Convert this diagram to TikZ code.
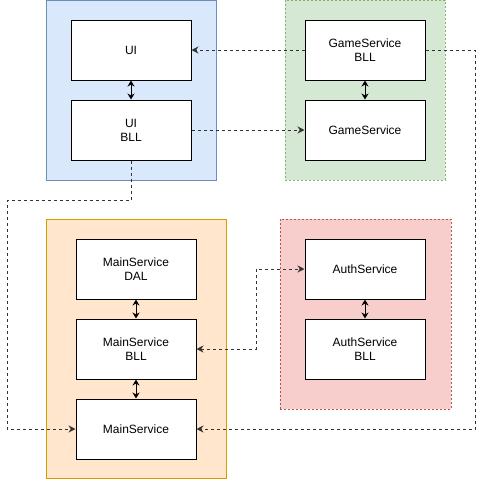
\documentclass[tikz,border=0pt]{standalone}
\usepackage{fontspec}
\setmainfont{Liberation Sans}
\usetikzlibrary{arrows.meta,positioning}
\definecolor{arblue}{HTML}{6C8EBF}
\definecolor{argreen}{HTML}{82B366}
\definecolor{arorange}{HTML}{D79B00}
\definecolor{arred}{HTML}{B85450}
\definecolor{arlightblue}{HTML}{DAE8FC}
\definecolor{arlightgreen}{HTML}{D5E8D4}
\definecolor{arlightorange}{HTML}{FFE6CC}
\definecolor{arlightred}{HTML}{F8CECC}
\definecolor{arline}{HTML}{333333}
\tikzset{
  argroup/.style={line width=1pt, inner sep=0pt},
  argrpblue/.style={argroup, draw=arblue, fill=arlightblue},
  argrpgreen/.style={argroup, draw=argreen, fill=arlightgreen, dash pattern=on 2pt off 2pt},
  argrporange/.style={argroup, draw=arorange, fill=arlightorange},
  argrpred/.style={argroup, draw=arred, fill=arlightred, dash pattern=on 2pt off 2pt},
  arbox/.style={draw=black, line width=1pt, fill=white, align=center, minimum width=120pt, minimum height=60pt, inner sep=0pt},
  ararr/.style={{Stealth[length=6pt,width=7pt]}-{Stealth[length=6pt,width=7pt]}, line width=1pt, draw=black},
  ardash/.style={-{Stealth[length=7pt,width=7pt]}, line width=1pt, draw=arline, dash pattern=on 3pt off 3pt}
}

\begin{document}
\begin{tikzpicture}[x=1pt, y=-1pt, font=\fontsize{12}{14}\selectfont, node distance=19pt]
  \useasboundingbox (0,0) rectangle (485,480);
  \node[argrpblue, minimum width=170pt, minimum height=180pt] (uigrp) at (131,90) {};
  \node[argrpgreen, minimum width=160pt, minimum height=180pt] (gamegrp) at (365,90) {};
  \node[argrporange, minimum width=180pt, minimum height=259pt] (maingrp) at (136,348.5) {};
  \node[argrpred, minimum width=171pt, minimum height=190pt] (authgrp) at (365.5,314) {};
  \node[arbox] (ui) at (131,50) {UI};
  \node[arbox, below=of ui] (uibll) {UI\\BLL};
  \node[arbox] (gamebll) at (365,50) {GameService\\BLL};
  \node[arbox, below=of gamebll] (game) {GameService};
  \node[arbox] (maindal) at (136,269) {MainService\\DAL};
  \node[arbox, below=of maindal] (mainbll) {MainService\\BLL};
  \node[arbox, below=of mainbll] (main) {MainService};
  \node[arbox] (auth) at (365,269) {AuthService};
  \node[arbox, below=of auth] (authbll) {AuthService\\BLL};
  \coordinate (leftbend) at (7,200);
  \coordinate (rightbend) at (475,429);
  \coordinate (authbend) at (256,300);
  \draw[ararr] (ui) -- (uibll);
  \draw[ararr] (gamebll) -- (game);
  \draw[ararr] (maindal) -- (mainbll);
  \draw[ararr] (mainbll) -- (main);
  \draw[ararr] (auth) -- (authbll);
  \draw[ardash] (gamebll.west) -- (ui.east);
  \draw[ardash] (uibll.east) -- (game.west);
  \draw[ardash] (uibll.south) |- (leftbend) |- (main.west);
  \draw[ardash] (gamebll.east) -| (rightbend) |- (main.east);
  \draw[ardash, {Stealth[length=7pt,width=7pt]}-{Stealth[length=7pt,width=7pt]}] (mainbll.east) -| (authbend) |- (auth.west);
\end{tikzpicture}
\end{document}
